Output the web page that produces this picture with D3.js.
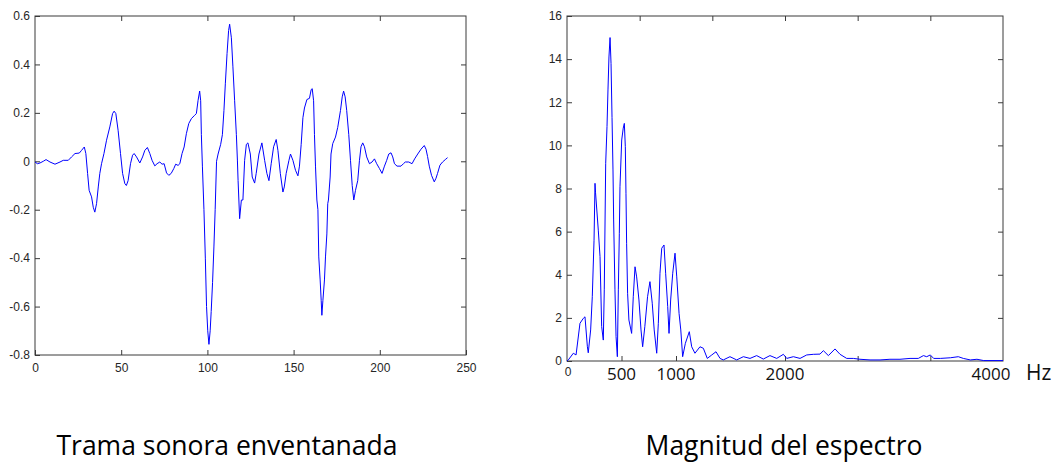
<!DOCTYPE html>
<html><head><meta charset="utf-8">
<script src="https://cdn.jsdelivr.net/npm/d3@7"></script>
<style>body{margin:0;background:#fff} svg{display:block}</style>
</head><body>
<svg id="c" width="1060" height="464"></svg>
<script>
// ---- Data: windowed speech frame (sample index, amplitude) ----
const frameIndex = [0,1.4,2.9,4.8,6.4,8.7,11.6,14.5,16.4,19.3,21.2,23.2,25.7,27,28.6,29.5,30.5,31.4,32.8,33.8,34.7,35.7,36.7,37.6,38.6,40,41.5,43.4,45,45.9,46.9,48.2,49.6,50.8,52.1,53,54,55.4,56.6,57.5,58.9,60.8,62.4,63.7,65.2,66.6,67.9,69.5,70.8,72.4,73.7,74.9,76.3,77.6,79,80.5,81.6,83,84,85.3,86.5,87.8,89.2,90.7,92.6,93.6,94.6,95.5,96.1,96.5,97.1,98,98.8,99.5,100.2,100.9,101.6,102.2,103,103.8,104.5,105.3,106.2,107.7,108.7,109.6,110.4,111.4,112.3,112.9,113.9,114.8,115.8,116.8,117.4,117.8,118.7,119.7,120.6,121.6,122.6,123.5,124.9,126,127.4,128.3,129.9,131.6,133.2,134.5,135.7,137,138.4,139.9,140.9,142.3,143.8,144.6,145.7,147.3,148.2,149.6,151.1,152.5,153.4,154.4,155.4,156.3,157.7,159.2,160.2,160.8,161.6,162.1,162.7,163.5,164.1,164.6,165.4,166,166.4,167,167.9,168.5,169.3,169.8,170.2,171.2,171.7,172.7,174.3,175.6,177.2,178.2,179,179.9,180.8,182,183,184,184.9,185.9,187.2,188.2,189.1,190.1,191.1,192.4,194,195.5,196.9,198.2,199.8,201.3,202.7,204,205.2,206.5,207.5,208.5,210,212.3,213.7,214.8,216.8,218.7,220.2,222,223.9,225.8,226.8,227.7,228.7,230,231.6,232.6,233.5,234.9,236.4,238,239.3];
const frameAmplitude = [-0.003,-0.01,-0.007,0,0.007,-0.003,-0.012,-0.003,0.004,0.004,0.018,0.032,0.034,0.045,0.059,0.032,-0.05,-0.12,-0.147,-0.19,-0.21,-0.175,-0.106,-0.05,-0.01,0.032,0.087,0.142,0.197,0.207,0.197,0.128,0.032,-0.05,-0.092,-0.1,-0.08,-0.01,0.025,0.032,0.018,-0.007,0.018,0.045,0.057,0.032,0.004,-0.019,-0.01,-0.003,-0.012,-0.01,-0.048,-0.058,-0.05,-0.03,-0.012,-0.017,-0.01,0.032,0.059,0.114,0.156,0.176,0.19,0.197,0.252,0.29,0.25,0.11,-0.02,-0.2,-0.4,-0.6,-0.7,-0.756,-0.7,-0.62,-0.5,-0.35,-0.2,0,0.03,0.07,0.11,0.21,0.32,0.445,0.54,0.566,0.51,0.39,0.25,0.11,0.005,-0.08,-0.237,-0.16,-0.16,0.004,0.07,0.076,0.03,-0.065,-0.09,-0.05,0.03,0.076,0.004,-0.05,-0.08,-0.01,0.06,0.09,0.045,-0.05,-0.127,-0.106,-0.05,0.004,0.03,0.004,-0.037,-0.06,-0.02,0.07,0.18,0.22,0.255,0.26,0.296,0.3,0.25,0.11,-0.02,-0.16,-0.2,-0.395,-0.49,-0.574,-0.636,-0.574,-0.49,-0.395,-0.3,-0.175,-0.16,-0.065,0.03,0.073,0.1,0.14,0.21,0.266,0.29,0.266,0.21,0.11,0.004,-0.1,-0.16,-0.12,-0.08,0.004,0.06,0.076,0.06,0.018,-0.01,-0.003,0.01,-0.01,-0.03,-0.05,-0.02,0.004,0.03,0.035,0.018,-0.01,-0.02,-0.02,-0.01,-0.003,-0.003,-0.01,0.01,0.03,0.05,0.065,0.05,0.02,-0.02,-0.058,-0.085,-0.07,-0.05,-0.016,-0.003,0.007,0.015];

// ---- Data: spectrum magnitude (Hz, magnitude) ----
const specFreq = [0,12,58,83,119,150,165,187,195,217,232,248,257,262,287,303,318,333,342,355,367,376,385,395,404,413,422,428,440,450,462,471,480,486,502,516,526,535,541,547,556,568,593,608,624,639,660,679,694,714,739,761,782,800,823,838,853,869,890,905,924,936,951,970,991,1007,1028,1044,1061,1086,1122,1144,1174,1220,1251,1287,1328,1367,1404,1434,1495,1557,1618,1679,1740,1801,1862,1924,1985,2016,2077,2138,2199,2260,2321,2352,2398,2459,2505,2566,2627,2688,2780,2872,2963,3055,3147,3223,3270,3300,3333,3364,3425,3517,3590,3636,3700,3761,3823,4000];
const specMag = [0,0.05,0.36,0.28,1.75,1.98,2.05,0.66,0.38,1.44,2.98,5.6,8.24,7.8,6.07,4.84,1.6,0.97,3.3,9.17,10.87,12.57,14.1,15.0,13.8,11.3,8.86,6.54,3.3,1.13,0.2,3.3,5.9,8.08,10.25,10.8,11.02,9.94,7.78,5.46,3.14,1.9,1.28,2.98,4.37,3.9,2.83,1.44,0.66,1.59,2.98,3.68,2.68,1.44,0.36,1.75,4.07,5.23,5.38,4.07,2.52,1.28,2.83,4.07,5.0,3.9,2.21,1.44,0.2,0.82,1.36,0.66,0.36,0.66,0.59,0.12,0.28,0.43,0.12,0.05,0.2,0.05,0.2,0.12,0.25,0.09,0.25,0.12,0.31,0.12,0.2,0.12,0.28,0.31,0.32,0.48,0.25,0.56,0.31,0.12,0.12,0.08,0.05,0.05,0.08,0.08,0.12,0.12,0.25,0.2,0.28,0.12,0.12,0.15,0.2,0.12,0.05,0.08,0.02,0.02];

// ---- Ticks & labels ----
const leftXTicks = [0,50,100,150,200,250];
const leftYTicks = [-0.8,-0.6,-0.4,-0.2,0,0.2,0.4,0.6];
const rightYTicks = [0,2,4,6,8,10,12,14,16];
const rightTopTicks = [666.7,1333.3,2000,2666.7,3333.3];
const rightBottomTicks = [500,1000,2000,2666.7,3333.3];
const hzLabels = [500,1000,2000,4000];
const hzUnit = "Hz";
const titles = ["Trama sonora enventanada","Magnitud del espectro"];

const svg = d3.select("#c");
const AX = "#3a3a3a", TXT = "#262626", LINE = "#0000ff";
const tickFont = "'Liberation Sans', Arial, sans-serif";
const textFont = "'Open Sans', sans-serif";

function style(g){
  g.select(".domain").remove();
  g.selectAll(".tick line").attr("stroke", AX);
  g.selectAll(".tick text").attr("fill", TXT).style("font-family", tickFont).style("font-size","12px");
}

// ===== Left plot =====
const lx = d3.scaleLinear().domain([0,250]).range([35,466]);
const ly = d3.scaleLinear().domain([-0.8,0.6]).range([355,16]);

svg.append("g").attr("transform",`translate(0,${ly.range()[0]})`)
  .call(d3.axisBottom(lx).tickValues(leftXTicks).tickSize(-5).tickPadding(8).tickFormat(String)).call(style);
svg.append("g").attr("transform",`translate(0,${ly.range()[1]})`)
  .call(d3.axisTop(lx).tickValues(leftXTicks.slice(1,-1)).tickSize(-5).tickFormat("")).call(style);
svg.append("g").attr("transform",`translate(${lx.range()[0]},0)`)
  .call(d3.axisLeft(ly).tickValues(leftYTicks).tickSize(-5).tickPadding(5).tickFormat(String)).call(style);
svg.append("g").attr("transform",`translate(${lx.range()[1]},0)`)
  .call(d3.axisRight(ly).tickValues(leftYTicks.slice(1,-1)).tickSize(-5).tickFormat("")).call(style);
svg.append("rect").attr("x",lx.range()[0]).attr("y",ly.range()[1])
  .attr("width",lx.range()[1]-lx.range()[0]).attr("height",ly.range()[0]-ly.range()[1])
  .attr("fill","none").attr("stroke",AX);

svg.append("path")
  .attr("d", d3.line().x(i=>lx(frameIndex[i])).y(i=>ly(frameAmplitude[i]))(d3.range(frameIndex.length)))
  .attr("fill","none").attr("stroke",LINE).attr("stroke-width",1);

// ===== Right plot =====
const rx = d3.scaleLinear().domain([0,4000]).range([567,1003]);
const ry = d3.scaleLinear().domain([0,16]).range([361,16]);

svg.append("g").attr("transform",`translate(0,${ry.range()[0]})`)
  .call(d3.axisBottom(rx).tickValues(rightBottomTicks).tickSize(-5).tickFormat("")).call(style);
svg.append("g").attr("transform",`translate(0,${ry.range()[1]})`)
  .call(d3.axisTop(rx).tickValues(rightTopTicks).tickSize(-5).tickFormat("")).call(style);
svg.append("g").attr("transform",`translate(${rx.range()[0]},0)`)
  .call(d3.axisLeft(ry).tickValues(rightYTicks).tickSize(-5).tickPadding(5).tickFormat(String)).call(style);
svg.append("g").attr("transform",`translate(${rx.range()[1]},0)`)
  .call(d3.axisRight(ry).tickValues(rightYTicks.slice(1,-1)).tickSize(-5).tickFormat("")).call(style);
svg.append("rect").attr("x",rx.range()[0]).attr("y",ry.range()[1])
  .attr("width",rx.range()[1]-rx.range()[0]).attr("height",ry.range()[0]-ry.range()[1])
  .attr("fill","none").attr("stroke",AX);

svg.append("path")
  .attr("d", d3.line().x(i=>rx(specFreq[i])).y(i=>ry(specMag[i]))(d3.range(specFreq.length)))
  .attr("fill","none").attr("stroke",LINE).attr("stroke-width",1);

// x "0" label (tick-style) and Hz labels
svg.append("text").attr("x",rx(0)+1).attr("y",376).attr("text-anchor","middle")
  .attr("fill",TXT).style("font-family",tickFont).style("font-size","12px").text("0");
svg.selectAll("text.hz").data(hzLabels).join("text").attr("class","hz")
  .attr("x",d=>rx(d) - (d===4000?12:0)).attr("y",380).attr("text-anchor","middle")
  .attr("fill","#111").style("font-family",textFont).style("font-size","17px").text(d=>String(d));
svg.append("text").attr("x",1026).attr("y",380).attr("fill","#111")
  .style("font-family",textFont).style("font-size","21px").text(hzUnit);

// Titles
svg.selectAll("text.title").data(titles).join("text").attr("class","title")
  .attr("x",(d,i)=> i===0 ? 227 : 784).attr("y",455).attr("text-anchor","middle")
  .attr("fill","#000").style("font-family",textFont).style("font-size","26.5px").text(d=>d);
</script>
</body></html>
